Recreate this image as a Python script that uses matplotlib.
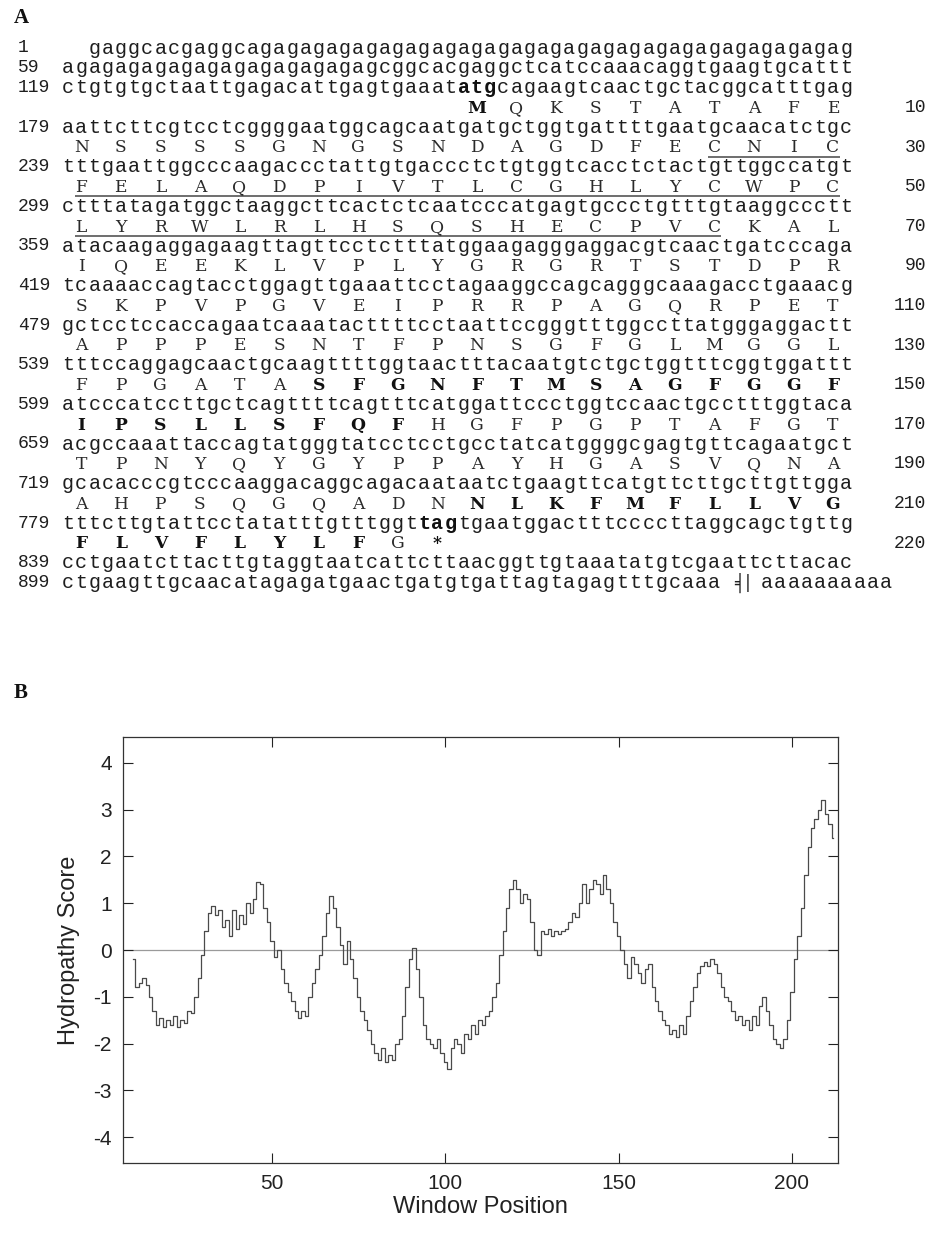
import matplotlib
matplotlib.use("Agg")
import matplotlib.pyplot as plt

plt.rcParams['axes.unicode_minus'] = False

# ---------------- data: panel A ----------------
nt_starts = [1, 59, 119, 179, 239, 299, 359, 419, 479, 539, 599, 659, 719, 779, 839, 899]
nt_rows = [
    "gaggcacgaggc" + "ag" * 23,
    "ag" * 12 + "cggcacgaggctcatccaaacaggtgaagtgcattt",
    "ctgtgtgctaattgagacattgagtgaaatatgcagaagtcaactgctacggcatttgag",
    "aattcttcgtcctcggggaatggcagcaatgatgctggtgattttgaatgcaacatctgc",
    "tttgaattggcccaagaccctattgtgaccctctgtggtcacctctactgttggccatgt",
    "ctttatagatggctaaggcttcactctcaatcccatgagtgccctgtttgtaaggccctt",
    "atacaagaggagaagttagttcctctttatggaagagggaggacgtcaactgatcccaga",
    "tcaaaaccagtacctggagttgaaattcctagaaggccagcagggcaaagacctgaaacg",
    "gctcctccaccagaatcaaatacttttcctaattccgggtttggccttatgggaggactt",
    "tttccaggagcaactgcaagttttggtaactttacaatgtctgctggtttcggtggattt",
    "atcccatccttgctcagttttcagtttcatggattccctggtccaactgcctttggtaca",
    "acgccaaattaccagtatgggtatcctcctgcctatcatggggcgagtgttcagaatgct",
    "gcacacccgtcccaaggacaggcagacaataatctgaagttcatgttcttgcttgttgga",
    "tttcttgtattcctatatttgtttggttagtgaatggactttccccttaggcagctgttg",
    "cctgaatcttacttgtaggtaatcattcttaacggttgtaaatatgtcgaattcttacac",
    "ctgaagttgcaacatagagatgaactgatgtgattagtagagtttgcaaa",
]
polyA_tail = "aaaaaaaaaa"
nt_bold = {2: (30, 33), 13: (27, 30)}          # row index -> bold column span (atg / tag)

aa_rows = ["MQKSTATAFE", "NSSSSGNGSNDAGDFECNIC", "FELAQDPIVTLCGHLYCWPC",
           "LYRWLRLHSQSHECPVCKAL", "IQEEKLVPLYGRGRTSTDPR", "SKPVPGVEIPRRPAGQRPET",
           "APPPESNTFPNSGFGLMGGL", "FPGATASFGNFTMSAGFGGF", "IPSLLSFQFHGFPGPTAFGT",
           "TPNYQYGYPPAYHGASVQNA", "AHPSQGQADNNLKFMFLLVG", "FLVFLYLFG*"]
aa_ends = [10, 30, 50, 70, 90, 110, 130, 150, 170, 190, 210, 220]
aa_bold = {1} | set(range(137, 160)) | set(range(201, 219)) | {220}
aa_underline = (27, 67)

# ---------------- data: panel B ----------------
window_pos = list(range(10, 213))
hydro = [
    -0.2, -0.8, -0.7, -0.6, -0.75, -1.0, -1.3, -1.6, -1.45, -1.65,      # 10-19
    -1.5, -1.6, -1.4, -1.65, -1.5, -1.55, -1.3, -1.35, -1.0, -0.6,      # 20-29
    -0.1, 0.4, 0.8, 0.95, 0.75, 0.85, 0.5, 0.65, 0.3, 0.85,            # 30-39
    0.45, 0.75, 0.55, 1.0, 0.8, 1.1, 1.45, 1.4, 0.9, 0.6,              # 40-49
    0.2, -0.15, 0.0, -0.4, -0.7, -0.9, -1.1, -1.3, -1.45, -1.3,         # 50-59
    -1.4, -1.0, -0.7, -0.4, -0.1, 0.3, 0.8, 1.15, 0.9, 0.5,             # 60-69
    0.1, -0.3, 0.2, -0.2, -0.6, -1.0, -1.3, -1.5, -1.7, -2.0,           # 70-79
    -2.2, -2.35, -2.1, -2.4, -2.25, -2.35, -2.0, -1.9, -1.4, -0.8,      # 80-89
    -0.2, 0.05, -0.4, -1.0, -1.6, -1.9, -2.0, -2.1, -1.9, -2.2,         # 90-99
    -2.4, -2.55, -2.1, -1.9, -2.0, -2.2, -1.8, -1.9, -1.6, -1.8,        # 100-109
    -1.5, -1.6, -1.4, -1.3, -1.0, -0.7, -0.1, 0.4, 0.9, 1.3,            # 110-119
    1.5, 1.3, 1.0, 1.2, 1.1, 0.6, 0.0, -0.1, 0.4, 0.35,                 # 120-129
    0.45, 0.3, 0.4, 0.35, 0.4, 0.45, 0.6, 0.8, 0.7, 1.0,                # 130-139
    1.4, 1.0, 1.3, 1.5, 1.4, 1.2, 1.6, 1.3, 1.0, 0.6,                   # 140-149
    0.3, 0.0, -0.3, -0.6, -0.15, -0.3, -0.5, -0.7, -0.4, -0.3,          # 150-159
    -0.8, -1.1, -1.3, -1.5, -1.6, -1.8, -1.7, -1.85, -1.6, -1.8,        # 160-169
    -1.4, -1.1, -0.8, -0.5, -0.35, -0.25, -0.35, -0.2, -0.3, -0.5,      # 170-179
    -0.8, -1.0, -1.1, -1.3, -1.5, -1.4, -1.6, -1.5, -1.7, -1.4,         # 180-189
    -1.6, -1.2, -1.0, -1.3, -1.6, -1.9, -2.0, -2.1, -1.9, -1.5,         # 190-199
    -0.9, -0.2, 0.3, 0.9, 1.6, 2.2, 2.6, 2.8, 3.0, 3.2,                 # 200-209
    2.9, 2.7, 2.4,                                                      # 210-212
]
x_ticks = [50, 100, 150, 200]
y_ticks = [-4, -3, -2, -1, 0, 1, 2, 3, 4]

# ---------------- figure ----------------
W, H = 929, 1245
fig = plt.figure(figsize=(W / 100, H / 100), dpi=100)
A = fig.add_axes([0, 0, 1, 1])
A.set_xlim(0, W)
A.set_ylim(H, 0)
A.axis('off')

MONO = 'Liberation Mono'
AAF = 'DejaVu Serif'
fs_seq = 14.5
fs_aa = 12.3
fs_num = 13.0
x0, cw = 68.0, 13.19
y0, dy = 48.0, 19.8
ink = '#1e1e1e'


def col_x(c):
    return x0 + c * cw


def line_y(i):
    return y0 + i * dy


A.text(14, 18, 'A', fontsize=15, fontweight='bold', family='Liberation Serif',
       va='center', ha='left', color='#111111')

# nucleotide rows
for k, (start, seq) in enumerate(zip(nt_starts, nt_rows)):
    li = k if k < 3 else (4 + 2 * (k - 3) if k < 15 else 27)
    y = line_y(li)
    A.text(18, y, str(start), family=MONO, fontsize=fs_num, va='center', ha='left', color=ink)
    offset = 2 if k == 0 else 0
    b = nt_bold.get(k)
    for i, ch in enumerate(seq):
        c = i + offset
        bold = b is not None and b[0] <= i < b[1]
        A.text(col_x(c), y, ch, family=MONO, fontsize=fs_seq, va='center', ha='center',
               fontweight='bold' if bold else 'normal', color='#111111' if bold else ink)
    if k == 15:
        A.text(col_x(50.9), y, '\u2561', family='DejaVu Sans Mono', fontsize=12,
               va='center', ha='center', color=ink)
        A.text(col_x(51.55), y, '|', family='DejaVu Sans Mono', fontsize=12,
               va='center', ha='center', color=ink)
        for i, ch in enumerate(polyA_tail):
            A.text(col_x(53 + i), y, ch, family=MONO, fontsize=fs_seq, va='center',
                   ha='center', color=ink)

# amino-acid rows
aa_num = 0
for j, (row, end) in enumerate(zip(aa_rows, aa_ends)):
    y = line_y(3 + 2 * j)
    off = 30 if j == 0 else 0
    ul = []
    for i, ch in enumerate(row):
        aa_num += 1
        c = off + 3 * i + 1
        bold = aa_num in aa_bold
        A.text(col_x(c), y + 1, ch, family=AAF, fontsize=fs_aa, va='center', ha='center',
               fontweight='bold' if bold else 'normal', color='#111111' if bold else '#2a2a2a')
        if aa_underline[0] <= aa_num <= aa_underline[1]:
            ul.append(c)
    if ul:
        A.plot([col_x(min(ul)) - cw * 0.5, col_x(max(ul)) + cw * 0.5], [y + 9.5, y + 9.5],
               color='#555555', lw=1.2, solid_capstyle='butt')
    A.text(926, y, str(end), family=MONO, fontsize=fs_num, va='center', ha='right', color=ink)

# ---------------- panel B ----------------
A.text(14, 693, 'B', fontsize=15, fontweight='bold', family='Liberation Serif',
       va='center', ha='left', color='#111111')

ax = fig.add_axes([123 / W, 1 - 1163 / H, (838 - 123) / W, (1163 - 737) / H])
ax.axhline(0, color='#9a9a9a', lw=0.9, zorder=1)
ax.plot(window_pos, hydro, drawstyle='steps-mid', color='#4a4a4a', lw=0.9, zorder=2)
ax.set_xlim(7, 213.3)
ax.set_ylim(-4.55, 4.55)
ax.set_xticks(x_ticks)
ax.set_yticks(y_ticks)
ax.tick_params(direction='in', length=7, width=0.8, top=True, right=True,
               labelsize=15, colors='#222222', pad=8)
for s in ax.spines.values():
    s.set_color('#333333')
    s.set_linewidth(0.9)
for lab in ax.get_xticklabels() + ax.get_yticklabels():
    lab.set_family('Liberation Sans')
ax.set_xlabel('Window Position', family='Liberation Sans', fontsize=17, color='#222222', labelpad=2)
ax.set_ylabel('Hydropathy Score', family='Liberation Sans', fontsize=17, color='#222222', labelpad=10)

fig.savefig('out.png', dpi=100)
